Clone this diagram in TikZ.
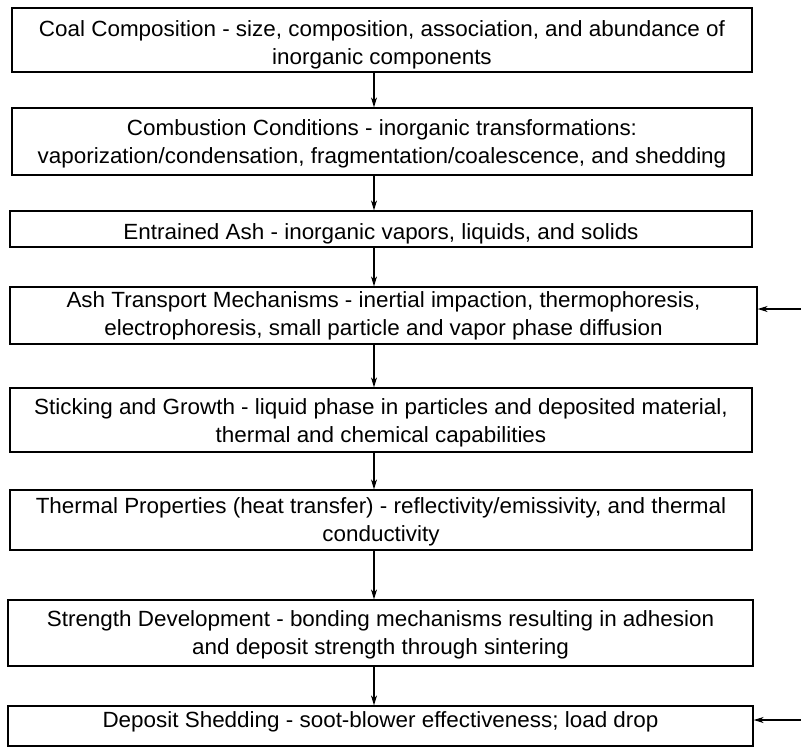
\documentclass[tikz,border=0pt]{standalone}
\usepackage{fontspec}
\setmainfont{Liberation Sans}
\newfontfamily\boxfont[FakeStretch=1.02]{Liberation Sans}
\usetikzlibrary{arrows.meta}
\newcommand{\dn}[1]{\rule{0pt}{#1}}
\begin{document}
\begin{tikzpicture}[x=1pt,y=-1pt,
  box/.style={draw, line width=1.3pt, rectangle, inner sep=0pt, align=center,
    font=\boxfont\fontsize{22}{28}\selectfont},
  arr/.style={line width=1.2pt, -{Stealth[length=10pt,width=6pt]}}]
\useasboundingbox (0,0) rectangle (801,748);
\node[box,minimum width=740pt,minimum height=64pt] (b1) at (382,40)
  {\dn{25pt}Coal Composition - size, composition, association, and abundance of\\inorganic components};
\node[box,minimum width=740pt,minimum height=67pt] (b2) at (382,141.5)
  {\dn{20pt}Combustion Conditions - inorganic transformations:\\vaporization/condensation, fragmentation/coalescence, and shedding};
\node[box,minimum width=742pt,minimum height=36pt] (b3) at (381,229)
  {\dn{26pt}Entrained Ash - inorganic vapors, liquids, and solids};
\node[box,minimum width=747pt,minimum height=57pt] (b4) at (383.5,315.5)
  {Ash Transport Mechanisms - inertial impaction, thermophoresis,\\electrophoresis, small particle and vapor phase diffusion};
\node[box,minimum width=742pt,minimum height=64pt] (b5) at (381,420)
  {\dn{22pt}Sticking and Growth - liquid phase in particles and deposited material,\\thermal and chemical capabilities};
\node[box,minimum width=742pt,minimum height=60pt] (b6) at (381,520)
  {\dn{20pt}Thermal Properties (heat transfer) - reflectivity/emissivity, and thermal\\conductivity};
\node[box,minimum width=745pt,minimum height=66pt] (b7) at (380.5,633)
  {\dn{20pt}Strength Development - bonding mechanisms resulting in adhesion\\and deposit strength through sintering};
\node[box,minimum width=745pt,minimum height=40pt] (b8) at (380.5,726)
  {\raisebox{13pt}{Deposit Shedding - soot-blower effectiveness; load drop}};
\coordinate (ax) at (374,0);
\foreach \a/\b in {b1/b2,b2/b3,b3/b4,b4/b5,b5/b6,b6/b7,b7/b8}
  \draw[arr] (\a.south -| ax) -- (\b.north -| ax);
\coordinate (s1) at (801,309);
\coordinate (s2) at (801,720);
\draw[arr] (s1) -- (b4.east |- s1);
\draw[arr] (s2) -- (b8.east |- s2);
\end{tikzpicture}
\end{document}
